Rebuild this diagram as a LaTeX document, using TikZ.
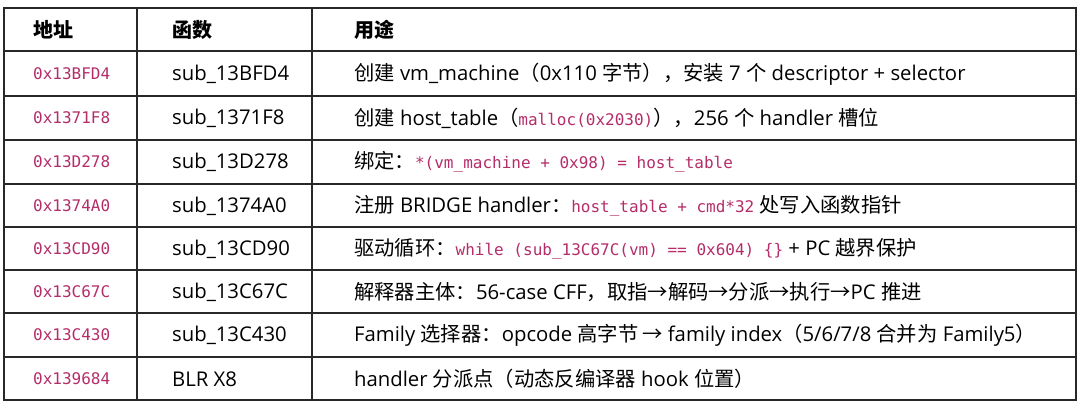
\documentclass[tikz,border=0pt]{standalone}
\usepackage{fontspec}
\setmainfont{Open Sans}
\setmonofont{DejaVu Sans Mono}
\newfontfamily\cjk{Noto Sans CJK SC}
\definecolor{codec}{RGB}{180,45,105}
\definecolor{rulec}{RGB}{40,40,40}
\newcommand{\zh}[1]{{\cjk #1}}
\newcommand{\cd}[1]{{\ttfamily\fontsize{16}{18}\selectfont\color{codec}#1}}
\begin{document}
\begin{tikzpicture}[x=1pt,y=-1pt,
  cell/.style={anchor=west,inner sep=0pt,font=\fontsize{20.3}{24}\selectfont},
  head/.style={cell,font=\fontsize{20}{24}\selectfont\cjk\bfseries},
  rl/.style={draw=rulec,line width=1.4pt}]
\useasboundingbox (0,0) rectangle (1080,406);
\draw[rl] (4,8) rectangle (1076,400);
\foreach \y in {51,96,140,184,227,270,313,357}{\draw[rl] (4,\y) -- (1076,\y);}
\draw[rl] (137,8) -- (137,400);
\draw[rl] (312,8) -- (312,400);
\node[head] (h1) at (33,30) {地址};
\node[head] (h2) at (172,30) {函数};
\node[head] (h3) at (354,30) {用途};
% rows
\node[cell] (a1) at (33,74) {\cd{0x13BFD4}};
\node[cell] (b1) at (172,74) {sub\_13BFD4};
\node[cell] (c1) at (354,74) {\zh{创建} vm\_machine\zh{（}0x110 \zh{字节），安装} 7 \zh{个} descriptor + selector};
\node[cell] (a2) at (33,118) {\cd{0x1371F8}};
\node[cell] (b2) at (172,118) {sub\_1371F8};
\node[cell] (c2) at (354,118) {\zh{创建} host\_table\zh{（}\cd{malloc(0x2030)}\zh{），}256 \zh{个} handler \zh{槽位}};
\node[cell] (a3) at (33,162) {\cd{0x13D278}};
\node[cell] (b3) at (172,162) {sub\_13D278};
\node[cell] (c3) at (354,162) {\zh{绑定：}\cd{*(vm\_machine + 0x98) = host\_table}};
\node[cell] (a4) at (33,206) {\cd{0x1374A0}};
\node[cell] (b4) at (172,206) {sub\_1374A0};
\node[cell] (c4) at (354,206) {\zh{注册} BRIDGE handler\zh{：}\cd{host\_table + cmd*32} \zh{处写入函数指针}};
\node[cell] (a5) at (33,249) {\cd{0x13CD90}};
\node[cell] (b5) at (172,249) {sub\_13CD90};
\node[cell] (c5) at (354,249) {\zh{驱动循环：}\cd{while (sub\_13C67C(vm) == 0x604) \{\}} + PC \zh{越界保护}};
\node[cell] (a6) at (33,292) {\cd{0x13C67C}};
\node[cell] (b6) at (172,292) {sub\_13C67C};
\node[cell] (c6) at (354,292) {\zh{解释器主体：}56-case CFF\zh{，取指→解码→分派→执行→}PC \zh{推进}};
\node[cell] (a7) at (33,335) {\cd{0x13C430}};
\node[cell] (b7) at (172,335) {sub\_13C430};
\node[cell] (c7) at (354,335) {Family \zh{选择器：}opcode \zh{高字节 → }family index\zh{（}5/6/7/8 \zh{合并为} Family5\zh{）}};
\node[cell] (a8) at (33,379) {\cd{0x139684}};
\node[cell] (b8) at (172,379) {BLR X8};
\node[cell] (c8) at (354,379) {handler \zh{分派点（动态反编译器} hook \zh{位置）}};
\end{tikzpicture}
\end{document}
